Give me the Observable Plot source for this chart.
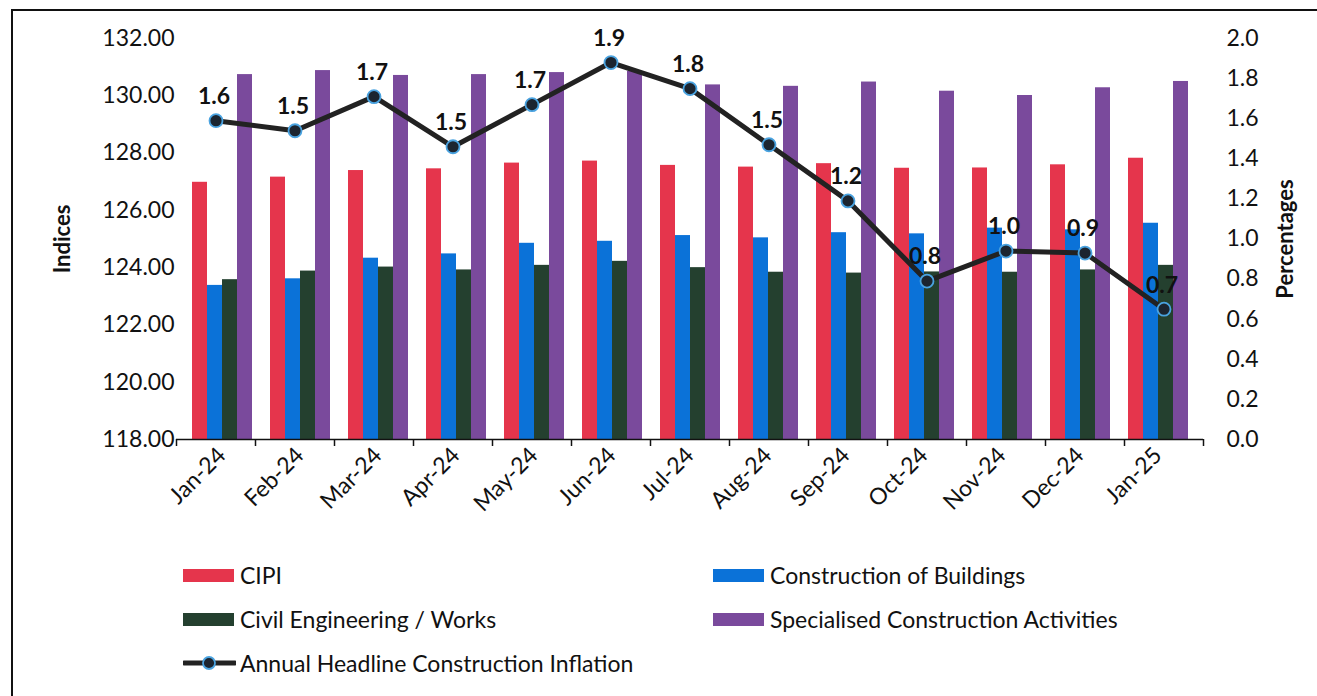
<!DOCTYPE html>
<html>
<head>
<meta charset="utf-8">
<script src="https://cdn.jsdelivr.net/npm/d3@7"></script>
<script src="https://cdn.jsdelivr.net/npm/@observablehq/plot@0.6"></script>
<style>
  html, body { margin: 0; padding: 0; background: #fff; }
  #wrap { position: relative; width: 1317px; height: 696px; overflow: hidden; font-family: Lato, "Open Sans", sans-serif; }
  #frame { position: absolute; left: 11px; top: 9px; width: 1400px; height: 800px; border-left: 2px solid #111; border-top: 2px solid #111; }
  #bars, #overlay { position: absolute; left: 0; top: 0; }
  .legend-item { position: absolute; display: flex; align-items: center; font-size: 23px; color: #111; height: 26px; }
  .sw { width: 51px; height: 13px; margin-right: 6px; }
</style>
</head>
<body>
<div id="wrap">
  <div id="frame"></div>
  <div id="bars"></div>
  <div id="overlay"></div>
  <div id="legend"></div>
</div>
<script>
const months = ["Jan-24","Feb-24","Mar-24","Apr-24","May-24","Jun-24","Jul-24","Aug-24","Sep-24","Oct-24","Nov-24","Dec-24","Jan-25"];
const seriesNames = ["CIPI","Construction of Buildings","Civil Engineering / Works","Specialised Construction Activities"];
const cipi        = [126.98,127.16,127.39,127.45,127.65,127.72,127.57,127.51,127.63,127.47,127.48,127.59,127.82];
const buildings   = [123.38,123.61,124.33,124.48,124.85,124.92,125.12,125.04,125.22,125.18,125.38,125.32,125.55];
const civil       = [123.58,123.88,124.02,123.92,124.08,124.22,124.00,123.84,123.81,123.85,123.84,123.92,124.08];
const specialised = [130.74,130.88,130.71,130.74,130.81,130.85,130.38,130.33,130.48,130.16,130.01,130.28,130.50];
const inflation   = [1.59,1.54,1.71,1.46,1.67,1.88,1.75,1.47,1.19,0.79,0.94,0.93,0.65];
const inflationLabels = ["1.6","1.5","1.7","1.5","1.7","1.9","1.8","1.5","1.2","0.8","1.0","0.9","0.7"];
const lineName = "Annual Headline Construction Inflation";
const leftTicks = [118,120,122,124,126,128,130,132];
const rightTicks = [0,0.2,0.4,0.6,0.8,1.0,1.2,1.4,1.6,1.8,2.0];
const colors = ["#E5354C","#0B72D8","#24402F","#7A4A9C"];

const seriesValues = [cipi, buildings, civil, specialised];
const table = months.flatMap((m, i) => seriesNames.map((s, j) => ({month: m, series: s, value: seriesValues[j][i]})));
const lineData = months.map((m, i) => ({idx: i, value: inflation[i], label: inflationLabels[i]}));

const W = 1317, H = 540;
const margins = {marginLeft: 176, marginRight: 114, marginTop: 38, marginBottom: 101};
const style = {background: "transparent", fontFamily: "Lato, 'Open Sans', sans-serif", fontSize: "23px", color: "#111", overflow: "visible"};

const bars = Plot.plot({
  width: W, height: H, ...margins, style,
  fx: {domain: months, paddingInner: 0.215, paddingOuter: 0.11, label: null, tickRotate: -45, tickSize: 0, tickPadding: 12},
  x: {domain: seriesNames, padding: 0, axis: null},
  y: {domain: [118, 132], ticks: leftTicks, tickFormat: d => d.toFixed(2), tickSize: 0, tickPadding: 17, label: null},
  color: {domain: seriesNames, range: colors},
  marks: [
    Plot.barY(table, {fx: "month", x: "series", y1: 118, y2: "value", fill: "series"})
  ]
});
document.getElementById("bars").append(bars);

const overlay = Plot.plot({
  width: W, height: H, ...margins, style,
  x: {domain: [0, months.length]},
  y: {domain: [0, 2]},
  marks: [
    Plot.ruleY([0], {stroke: "#111", strokeWidth: 1.5}),
    Plot.axisX({ticks: d3.range(0, months.length + 1), tickSize: 7, tickFormat: () => "", stroke: "#111", strokeWidth: 1.5}),
    Plot.axisY({anchor: "right", ticks: rightTicks, tickFormat: d => d.toFixed(1), tickSize: 0, tickPadding: 23, label: null}),
    Plot.line(lineData, {x: d => d.idx + 0.5, y: "value", stroke: "#222", strokeWidth: 5}),
    Plot.dot(lineData, {x: d => d.idx + 0.5, y: "value", r: 6.5, fill: "#1c2530", stroke: "#4aa3e0", strokeWidth: 1.8}),
    Plot.text(lineData, {x: d => d.idx + 0.5, y: "value", text: "label", dy: -24, dx: -2, fontWeight: "bold", fontSize: 23, fill: "#111"}),
    Plot.text(["Indices"], {frameAnchor: "left", dx: -114, rotate: -90, textAnchor: "middle", fontWeight: "bold", fontSize: 22, fill: "#111"}),
    Plot.text(["Percentages"], {frameAnchor: "right", dx: 82, rotate: -90, textAnchor: "middle", fontWeight: "bold", fontSize: 22, fill: "#111"})
  ]
});
document.getElementById("overlay").append(overlay);

// Legend
const legend = document.getElementById("legend");
const items = [
  {name: seriesNames[0], color: colors[0], left: 183, top: 562},
  {name: seriesNames[1], color: colors[1], left: 713, top: 562},
  {name: seriesNames[2], color: colors[2], left: 183, top: 606},
  {name: seriesNames[3], color: colors[3], left: 713, top: 606},
  {name: lineName, color: null, left: 183, top: 650}
];
for (const it of items) {
  const div = document.createElement("div");
  div.className = "legend-item";
  div.style.left = it.left + "px";
  div.style.top = it.top + "px";
  if (it.color) {
    const sw = document.createElement("span");
    sw.className = "sw";
    sw.style.background = it.color;
    div.append(sw);
  } else {
    const svg = d3.create("svg").attr("width", 53).attr("height", 16).style("margin-right", "4px");
    svg.append("line").attr("x1", 1).attr("x2", 52).attr("y1", 8).attr("y2", 8).attr("stroke", "#222").attr("stroke-width", 5).attr("stroke-linecap", "round");
    svg.append("circle").attr("cx", 26).attr("cy", 8).attr("r", 6).attr("fill", "#1c2530").attr("stroke", "#4aa3e0").attr("stroke-width", 1.8);
    div.append(svg.node());
  }
  const t = document.createElement("span");
  t.textContent = it.name;
  div.append(t);
  legend.append(div);
}
</script>
</body>
</html>
